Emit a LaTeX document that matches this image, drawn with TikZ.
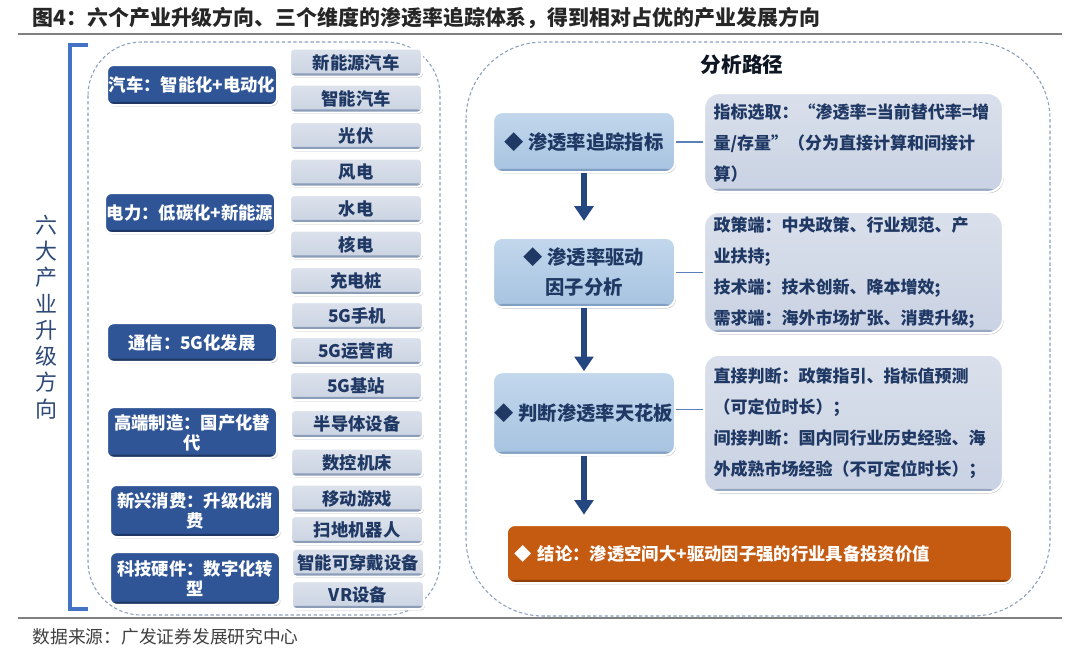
\documentclass[tikz,border=0pt]{standalone}
\usepackage{fontspec}
\setmainfont{Noto Sans CJK SC}
\usepackage{xcolor}
\usetikzlibrary{arrows.meta, shadows}
\definecolor{catblue}{HTML}{2F5597}
\definecolor{catedge}{HTML}{1F3864}
\definecolor{itemtop}{HTML}{DCE2EC}
\definecolor{itembot}{HTML}{CAD3E2}
\definecolor{itemedge}{HTML}{8C9DB8}
\definecolor{navy}{HTML}{1F3864}
\definecolor{steptop}{HTML}{C2D7EC}
\definecolor{stepbot}{HTML}{A7C3E0}
\definecolor{stepedge}{HTML}{7F9FC4}
\definecolor{detailtop}{HTML}{DAE0EB}
\definecolor{detailbot}{HTML}{C9D2E3}
\definecolor{detailedge}{HTML}{97A7C2}
\definecolor{endorange}{HTML}{C55A11}
\definecolor{endedge}{HTML}{8F3F0A}
\definecolor{panelgray}{HTML}{8C9FBD}
\definecolor{bracketblue}{HTML}{4472C4}
\definecolor{arrowblue}{HTML}{24477F}
\definecolor{linkblue}{HTML}{5B7FB8}
\definecolor{sideblue}{HTML}{2E4A78}

\begin{document}
\begin{tikzpicture}[x=0.75pt, y=-0.75pt,
    bottomstrip/.style={path picture={\fill[#1] ([yshift=-2pt]path picture bounding box.south west) rectangle ([yshift=2.4pt]path picture bounding box.south east);}},
    boxshadow/.style={drop shadow={shadow xshift=0.7pt, shadow yshift=-1pt, opacity=0.35, fill=black!70}},
    catbox/.style={rounded corners=5pt, fill=catblue, draw=white, line width=1.5pt, boxshadow, bottomstrip=catedge, minimum width=127.5pt, inner sep=0pt, align=center, text=white, font=\bfseries\fontsize{13}{15}\selectfont},
    itembox/.style={rounded corners=3pt, top color=itemtop, bottom color=itembot, draw=white, line width=1.5pt, boxshadow, bottomstrip=itemedge, minimum width=99pt, minimum height=21pt, inner sep=0pt, text=navy, font=\bfseries\fontsize{13}{15}\selectfont},
    stepbox/.style={rounded corners=7pt, top color=steptop, bottom color=stepbot, draw=white, line width=1.5pt, boxshadow, bottomstrip=stepedge, minimum width=136.5pt, inner sep=0pt, align=center, text=navy, font=\bfseries\fontsize{14.5}{22.5}\selectfont},
    detailbox/.style={rounded corners=11pt, top color=detailtop, bottom color=detailbot, draw=white, line width=1.5pt, boxshadow, bottomstrip=detailedge, text width=210pt, inner xsep=7pt, inner ysep=0pt, align=left, text=navy, font=\bfseries\fontsize{12.75}{23.25}\selectfont},
    endbox/.style={rounded corners=6pt, fill=endorange, draw=white, line width=1.5pt, boxshadow, bottomstrip=endedge, text width=367pt, inner xsep=6pt, minimum height=43.5pt, align=left, text=white, font=\bfseries\fontsize{13}{15}\selectfont},
    flowarrow/.style={draw=arrowblue, line width=4pt, -{Triangle[width=14pt, length=11pt]}},
    linkline/.style={draw=linkblue, line width=0.8pt},
    panelline/.style={draw=panelgray, dash pattern=on 2.5pt off 1.8pt, line width=0.8pt},
  ]
    \fill[white] (0,0) rectangle (1080,662);
    \useasboundingbox (0,0) rectangle (1080,662);

    \node[anchor=west, text=black!85, font=\bfseries\fontsize{15.7}{18}\selectfont] (title) at (28,18) {图4：六个产业升级方向、三个维度的渗透率追踪体系，得到相对占优的产业发展方向};
    \draw[black!50, line width=1.5pt] (18,34) -- (1062,34);
    \draw[black!50, line width=1.5pt] (18,617.5) -- (1062,617.5);
    \node[anchor=west, text=black!75, font=\fontsize{13.3}{15}\selectfont] (source) at (28,637) {数据来源：广发证券发展研究中心};

    \draw[panelline, rounded corners=40pt] (88,42) rectangle (440,615);
    \draw[panelline, rounded corners=58pt] (466,42) rectangle (1050,616);
    \draw[bracketblue, line width=3pt] (88,45) -- (69.5,45) -- (69.5,609) -- (88,609);
    \node[align=center, text=sideblue, font=\fontsize{16.5}{19.7}\selectfont] (side) at (47,317) {六\\大\\产\\业\\升\\级\\方\\向};

    \node[catbox, minimum height=30pt] (auto) at (192,85) {汽车：智能化+电动化};
    \node[catbox, minimum height=30pt] (power) at (190,213) {电力：低碳化+新能源};
    \node[catbox, minimum height=29pt] (telecom) at (192,342.5) {通信：5G化发展};
    \node[catbox, minimum height=38pt] (manuf) at (192,432.5) {高端制造：国产化替\\代};
    \node[catbox, minimum height=39pt] (consume) at (195,511) {新兴消费：升级化消\\费};
    \node[catbox, minimum height=39.5pt] (hardware) at (195,578.5) {科技硬件：数字化转\\型};

    \node[itembox] (nev) at (356,62.5) {新能源汽车};
    \node[itembox] (smartcar) at (356,98.5) {智能汽车};
    \node[itembox] (pv) at (356,136) {光伏};
    \node[itembox] (wind) at (356,172.5) {风电};
    \node[itembox] (hydro) at (356,209) {水电};
    \node[itembox] (nuclear) at (356,244.5) {核电};
    \node[itembox] (charger) at (356,281) {充电桩};
    \node[itembox] (phone) at (357,316) {5G手机};
    \node[itembox] (operator) at (356,351) {5G运营商};
    \node[itembox] (basestation) at (356,386) {5G基站};
    \node[itembox] (semi) at (357,424) {半导体设备};
    \node[itembox] (cnc) at (357,462.5) {数控机床};
    \node[itembox] (game) at (357,498.5) {移动游戏};
    \node[itembox] (robot) at (357,530) {扫地机器人};
    \node[itembox] (wearable) at (358,562.5) {智能可穿戴设备};
    \node[itembox] (vr) at (358,595) {VR设备};

    \node[text=black!70!sideblue, font=\bfseries\fontsize{15.5}{18}\selectfont] (pathtitle) at (742,65) {分析路径};

    \node[stepbox, minimum height=45pt] (stepA) at (584,142) {◆ 渗透率追踪指标};
    \node[stepbox, minimum height=52pt] (stepB) at (584,272.5) {◆ 渗透率驱动\\因子分析};
    \node[stepbox, minimum height=62pt] (stepC) at (584,413.5) {◆ 判断渗透率天花板};

    \node[detailbox, minimum height=74pt] (detailA) at (853.5,142.5) {指标选取：“渗透率=当前替代率=增\\量/存量”（分为直接计算和间接计\\算）};
    \node[detailbox, minimum height=91pt] (detailB) at (853.5,272.5) {政策端：中央政策、行业规范、产\\业扶持;\\技术端：技术创新、降本增效;\\需求端：海外市场扩张、消费升级;};
    \node[detailbox, minimum height=103pt] (detailC) at (853.5,423.5) {直接判断：政策指引、指标值预测\\（可定位时长）；\\间接判断：国内同行业历史经验、海\\外成熟市场经验（不可定位时长）；};

    \node[endbox] (conclusion) at (759.5,554) {◆ 结论：渗透空间大+驱动因子强的行业具备投资价值};

    \draw[flowarrow, shorten >=12pt] (stepA) -- (stepB);
    \draw[flowarrow] (stepB) -- (stepC);
    \draw[flowarrow, shorten >=7pt] (stepC.south) -- (stepC.south |- conclusion.north);

    \draw[linkline] (stepA.east) -- (stepA.east -| detailA.west);
    \draw[linkline] (stepB.east) -- (stepB.east -| detailB.west);
    \draw[linkline] ([yshift=3pt]stepC.east) -- ([yshift=3pt]stepC.east -| detailC.west);
\end{tikzpicture}
\end{document}
